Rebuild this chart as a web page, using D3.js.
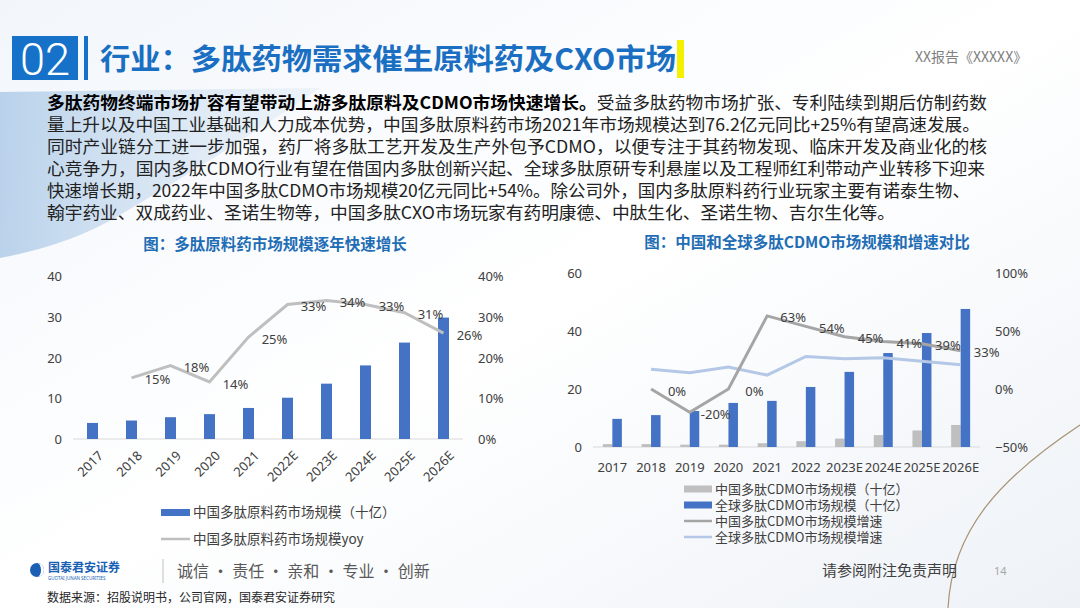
<!DOCTYPE html>
<html>
<head>
<meta charset="utf-8">
<script src="https://cdn.jsdelivr.net/npm/d3@7"></script>
<style>
  html, body { margin: 0; padding: 0; background: #fff; }
  svg { display: block; font-family: "Noto Sans CJK SC", "Noto Sans", sans-serif; }
  .axis text { fill: #404040; font-size: 13px; font-family: "Noto Sans", "Noto Sans CJK SC", sans-serif; }
  .axis path, .axis line { display: none; }
</style>
</head>
<body>
<script>
// left chart: 多肽原料药市场规模 (十亿) and yoy
var leftYears = ["2017", "2018", "2019", "2020", "2021", "2022E", "2023E", "2024E", "2025E", "2026E"];
var leftSize = [3.94, 4.53, 5.35, 6.10, 7.62, 10.13, 13.58, 18.06, 23.66, 29.8];
var leftYoy = [null, 0.15, 0.18, 0.14, 0.25, 0.33, 0.34, 0.33, 0.31, 0.26];
var leftTicks = [0, 10, 20, 30, 40];
var leftPctTicks = [0, 0.1, 0.2, 0.3, 0.4];

// right chart: 中国和全球多肽CDMO市场规模 (十亿) and growth
var rightYears = ["2017", "2018", "2019", "2020", "2021", "2022", "2023E", "2024E", "2025E", "2026E"];
var chinaCdmo = [1.0, 1.0, 0.8, 0.8, 1.3, 2.0, 2.9, 4.1, 5.7, 7.6];
var globalCdmo = [9.7, 11.0, 12.4, 15.2, 15.9, 20.7, 25.9, 32.4, 39.3, 47.6];
var chinaGrowth = [null, 0.00, -0.20, 0.00, 0.63, 0.54, 0.45, 0.41, 0.39, 0.33];
var globalGrowth = [null, 0.17, 0.14, 0.19, 0.12, 0.28, 0.26, 0.27, 0.24, 0.21];
var rightTicks = [0, 20, 40, 60];
var rightPctTicks = [-0.5, 0, 0.5, 1];

var paragraph = [
  ["多肽药物终端市场扩容有望带动上游多肽原料及CDMO市场快速增长。", "受益多肽药物市场扩张、专利陆续到期后仿制药数"],
  ["", "量上升以及中国工业基础和人力成本优势，中国多肽原料药市场2021年市场规模达到76.2亿元同比+25%有望高速发展。"],
  ["", "同时产业链分工进一步加强，药厂将多肽工艺开发及生产外包予CDMO，以便专注于其药物发现、临床开发及商业化的核"],
  ["", "心竞争力，国内多肽CDMO行业有望在借国内多肽创新兴起、全球多肽原研专利悬崖以及工程师红利带动产业转移下迎来"],
  ["", "快速增长期，2022年中国多肽CDMO市场规模20亿元同比+54%。除公司外，国内多肽原料药行业玩家主要有诺泰生物、"],
  ["", "翰宇药业、双成药业、圣诺生物等，中国多肽CXO市场玩家有药明康德、中肽生化、圣诺生物、吉尔生化等。"]
];
var lineWidths = [940, 933, 940, 938, 923, 848];

var W = 1080, H = 608;
var svg = d3.select("body").append("svg").attr("width", W).attr("height", H);

// background
var defs = svg.append("defs");
var bg = defs.append("linearGradient").attr("id", "bg").attr("x1", 0).attr("y1", 0).attr("x2", 1).attr("y2", 1);
bg.append("stop").attr("offset", "0%").attr("stop-color", "#f2f6fb");
bg.append("stop").attr("offset", "50%").attr("stop-color", "#ffffff");
bg.append("stop").attr("offset", "100%").attr("stop-color", "#eef2f7");
svg.append("rect").attr("width", W).attr("height", H).attr("fill", "url(#bg)");

var blob = defs.append("linearGradient").attr("id", "blob").attr("x1", 0).attr("y1", 0).attr("x2", 1).attr("y2", 0);
blob.append("stop").attr("offset", "0%").attr("stop-color", "#aac8e6").attr("stop-opacity", 0.8);
blob.append("stop").attr("offset", "100%").attr("stop-color", "#d6e5f3").attr("stop-opacity", 0.3);
svg.append("path")
  .attr("d", "M0,92 L320,88 Q230,150 120,215 Q70,245 0,258 Z")
  .attr("fill", "url(#blob)");
svg.append("path")
  .attr("d", "M1080,425 C1000,478 952,530 948,608")
  .attr("fill", "none").attr("stroke", "#a89375").attr("stroke-width", 1.2);

// header
svg.append("rect").attr("x", 12).attr("y", 36).attr("width", 66).attr("height", 44).attr("fill", "#1672c8");
svg.append("text").attr("x", 45).attr("y", 75).attr("text-anchor", "middle")
  .attr("fill", "#fff").attr("font-size", 44).attr("font-family", "Roboto, 'Noto Sans', sans-serif")
  .attr("font-weight", 300).attr("textLength", 50).attr("lengthAdjust", "spacingAndGlyphs").text("02");
svg.append("rect").attr("x", 84).attr("y", 36).attr("width", 4).attr("height", 44).attr("fill", "#1672c8");
svg.append("text").attr("x", 100).attr("y", 70).attr("fill", "#1a6fc2")
  .attr("font-size", 29).attr("font-weight", "bold")
  .attr("textLength", 576).attr("lengthAdjust", "spacingAndGlyphs")
  .text("行业：多肽药物需求催生原料药及CXO市场");
svg.append("rect").attr("x", 677).attr("y", 40).attr("width", 7).attr("height", 38).attr("fill", "#f5f000");
svg.append("text").attr("x", 915).attr("y", 62).attr("fill", "#7f7f7f").attr("font-size", 14)
  .text("XX报告《XXXXX》");

// paragraph
paragraph.forEach(function(p, i) {
  var t = svg.append("text").attr("x", 47).attr("y", 109 + i * 22)
    .attr("font-size", 17).attr("fill", "#222")
    .attr("textLength", lineWidths[i]).attr("lengthAdjust", "spacingAndGlyphs");
  if (p[0]) t.append("tspan").attr("font-weight", "bold").attr("fill", "#000").text(p[0]);
  t.append("tspan").text(p[1]);
});

// ---------- left chart ----------
var xL = d3.scaleBand().domain(leftYears).range([73, 463]);
var yL = d3.scaleLinear().domain([0, 40]).range([439, 276]);
var yLp = d3.scaleLinear().domain([0, 0.4]).range([439, 276]);

svg.append("text").attr("x", 275).attr("y", 250).attr("text-anchor", "middle")
  .attr("fill", "#1f6db5").attr("font-size", 15.5).attr("font-weight", "bold")
  .text("图：多肽原料药市场规模逐年快速增长");

svg.append("g").attr("class", "axis").attr("transform", "translate(62,0)")
  .call(d3.axisLeft(yL).tickValues(leftTicks).tickSize(0).tickPadding(0))
  .selectAll("text").attr("dy", "0.35em");
svg.append("g").attr("class", "axis").attr("transform", "translate(476,0)")
  .call(d3.axisRight(yLp).tickValues(leftPctTicks).tickSize(0).tickPadding(2).tickFormat(d3.format(".0%")))
  .selectAll("text").attr("dy", "0.35em");

svg.append("line").attr("x1", 73).attr("x2", 463).attr("y1", yL(0)).attr("y2", yL(0))
  .attr("stroke", "#d9d9d9").attr("stroke-width", 1);

var bwL = 11;
svg.append("g").selectAll("rect").data(leftSize).enter().append("rect")
  .attr("x", function(d, i) { return xL(leftYears[i]) + xL.bandwidth() / 2 - bwL / 2; })
  .attr("y", function(d) { return yL(d); })
  .attr("width", bwL)
  .attr("height", function(d) { return yL(0) - yL(d); })
  .attr("fill", "#4472c4");

var yoyPts = leftYoy.map(function(v, i) { return { x: xL(leftYears[i]) + xL.bandwidth() / 2, v: v }; })
  .filter(function(d) { return d.v !== null; });
svg.append("path").datum(yoyPts)
  .attr("d", d3.line().x(function(d) { return d.x; }).y(function(d) { return yLp(d.v); }))
  .attr("fill", "none").attr("stroke", "#bfbfbf").attr("stroke-width", 3);
svg.append("g").selectAll("text").data(yoyPts).enter().append("text")
  .attr("x", function(d) { return d.x + 26; })
  .attr("y", function(d) { return yLp(d.v) + 2; })
  .attr("dy", "0.35em").attr("text-anchor", "middle")
  .attr("font-size", 13).attr("fill", "#404040")
  .attr("font-family", "'Noto Sans', sans-serif")
  .text(function(d) { return Math.round(d.v * 100) + "%"; });

svg.append("g").selectAll("text").data(leftYears).enter().append("text")
  .attr("transform", function(d) { return "translate(" + (xL(d) + xL.bandwidth() / 2 + 5) + ",450) rotate(-45)"; })
  .attr("text-anchor", "end").attr("dy", "0.7em")
  .attr("font-size", 13).attr("fill", "#404040")
  .attr("font-family", "'Noto Sans', sans-serif")
  .text(function(d) { return d; });

// left legend
svg.append("rect").attr("x", 161).attr("y", 509).attr("width", 29).attr("height", 7).attr("fill", "#4472c4");
svg.append("text").attr("x", 193).attr("y", 517).attr("font-size", 13.5).attr("fill", "#404040")
  .text("中国多肽原料药市场规模（十亿）");
svg.append("line").attr("x1", 161).attr("x2", 190).attr("y1", 539).attr("y2", 539)
  .attr("stroke", "#bfbfbf").attr("stroke-width", 2.5);
svg.append("text").attr("x", 193).attr("y", 544).attr("font-size", 13.5).attr("fill", "#404040")
  .text("中国多肽原料药市场规模yoy");

// ---------- right chart ----------
var xR = d3.scaleBand().domain(rightYears).range([593, 980]);
var yR = d3.scaleLinear().domain([0, 60]).range([447, 273]);
var yRp = d3.scaleLinear().domain([-0.5, 1]).range([447, 273]);

svg.append("text").attr("x", 807).attr("y", 248).attr("text-anchor", "middle")
  .attr("fill", "#1f6db5").attr("font-size", 15.5).attr("font-weight", "bold")
  .text("图：中国和全球多肽CDMO市场规模和增速对比");

svg.append("g").attr("class", "axis").attr("transform", "translate(582,0)")
  .call(d3.axisLeft(yR).tickValues(rightTicks).tickSize(0).tickPadding(0))
  .selectAll("text").attr("dy", "0.35em");
svg.append("g").attr("class", "axis").attr("transform", "translate(993,0)")
  .call(d3.axisRight(yRp).tickValues(rightPctTicks).tickSize(0).tickPadding(2).tickFormat(d3.format(".0%")))
  .selectAll("text").attr("dy", "0.35em");

svg.append("line").attr("x1", 593).attr("x2", 980).attr("y1", yR(0)).attr("y2", yR(0))
  .attr("stroke", "#d9d9d9").attr("stroke-width", 1);

var bwR = 9.5;
svg.append("g").selectAll("rect").data(chinaCdmo).enter().append("rect")
  .attr("x", function(d, i) { return xR(rightYears[i]) + xR.bandwidth() / 2 - bwR; })
  .attr("y", function(d) { return yR(d); })
  .attr("width", bwR)
  .attr("height", function(d) { return yR(0) - yR(d); })
  .attr("fill", "#bfbfbf");
svg.append("g").selectAll("rect").data(globalCdmo).enter().append("rect")
  .attr("x", function(d, i) { return xR(rightYears[i]) + xR.bandwidth() / 2; })
  .attr("y", function(d) { return yR(d); })
  .attr("width", bwR)
  .attr("height", function(d) { return yR(0) - yR(d); })
  .attr("fill", "#4472c4");

function pts(arr) {
  return arr.map(function(v, i) { return { x: xR(rightYears[i]) + xR.bandwidth() / 2, v: v }; })
    .filter(function(d) { return d.v !== null; });
}
var lineR = d3.line().x(function(d) { return d.x; }).y(function(d) { return yRp(d.v); });
svg.append("path").datum(pts(globalGrowth)).attr("d", lineR)
  .attr("fill", "none").attr("stroke", "#b4c7e7").attr("stroke-width", 3);
var cPts = pts(chinaGrowth);
svg.append("path").datum(cPts).attr("d", lineR)
  .attr("fill", "none").attr("stroke", "#a5a5a5").attr("stroke-width", 3);
svg.append("g").selectAll("text").data(cPts).enter().append("text")
  .attr("x", function(d) { return d.x + 26; })
  .attr("y", function(d) { return yRp(d.v) + 2; })
  .attr("dy", "0.35em").attr("text-anchor", "middle")
  .attr("font-size", 13).attr("fill", "#404040")
  .attr("font-family", "'Noto Sans', sans-serif")
  .text(function(d) { return Math.round(d.v * 100) + "%"; });

svg.append("g").selectAll("text").data(rightYears).enter().append("text")
  .attr("x", function(d) { return xR(d) + xR.bandwidth() / 2; })
  .attr("y", 472).attr("text-anchor", "middle")
  .attr("font-size", 13).attr("fill", "#404040")
  .attr("font-family", "'Noto Sans', sans-serif")
  .text(function(d) { return d; });

// right legend
var legR = [
  { t: "中国多肽CDMO市场规模（十亿）", c: "#bfbfbf", k: "bar" },
  { t: "全球多肽CDMO市场规模（十亿）", c: "#4472c4", k: "bar" },
  { t: "中国多肽CDMO市场规模增速", c: "#a5a5a5", k: "line" },
  { t: "全球多肽CDMO市场规模增速", c: "#b4c7e7", k: "line" }
];
legR.forEach(function(l, i) {
  var cy = 489 + i * 16;
  if (l.k === "bar") {
    svg.append("rect").attr("x", 684).attr("y", cy - 3.5).attr("width", 28).attr("height", 7).attr("fill", l.c);
  } else {
    svg.append("line").attr("x1", 684).attr("x2", 712).attr("y1", cy).attr("y2", cy)
      .attr("stroke", l.c).attr("stroke-width", 2.5);
  }
  svg.append("text").attr("x", 715).attr("y", cy + 4.5).attr("font-size", 13).attr("fill", "#404040").text(l.t);
});

// footer
svg.append("circle").attr("cx", 37).attr("cy", 570).attr("r", 7).attr("fill", "#1a5fb4");
svg.append("path").attr("d", "M37,563 A7,7 0 0,1 37,577 A4,7 0 0,0 37,563 Z").attr("fill", "#fff");
svg.append("text").attr("x", 48).attr("y", 572).attr("font-size", 12).attr("font-weight", "bold")
  .attr("fill", "#1a5fb4").text("国泰君安证券");
svg.append("text").attr("x", 48).attr("y", 580).attr("font-size", 4.5)
  .attr("fill", "#1a5fb4").attr("font-family", "'Noto Sans', sans-serif").text("GUOTAI JUNAN SECURITIES");
svg.append("line").attr("x1", 163).attr("x2", 163).attr("y1", 559).attr("y2", 583)
  .attr("stroke", "#bfbfbf").attr("stroke-width", 1);
svg.append("text").attr("x", 177).attr("y", 577).attr("font-size", 16).attr("fill", "#595959")
  .text("诚信 · 责任 · 亲和 · 专业 · 创新");
svg.append("text").attr("x", 822).attr("y", 576).attr("font-size", 15).attr("fill", "#404040")
  .text("请参阅附注免责声明");
svg.append("text").attr("x", 994).attr("y", 575).attr("font-size", 11).attr("fill", "#a6a6a6")
  .attr("font-family", "'Noto Sans', sans-serif").text("14");
svg.append("text").attr("x", 47).attr("y", 602).attr("font-size", 12).attr("fill", "#262626")
  .text("数据来源：招股说明书，公司官网，国泰君安证券研究");
</script>
</body>
</html>
